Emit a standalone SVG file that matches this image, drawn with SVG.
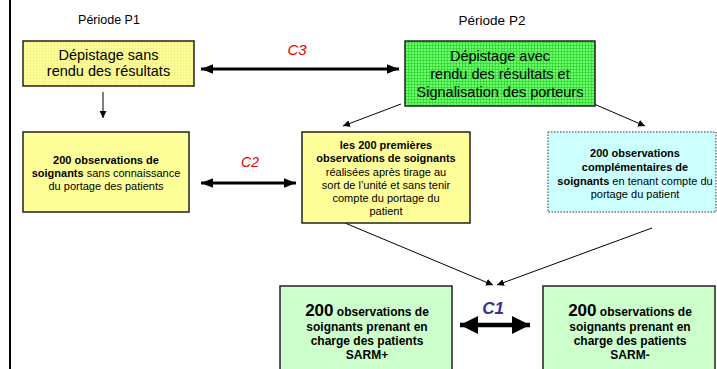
<svg xmlns="http://www.w3.org/2000/svg" width="717" height="369" viewBox="0 0 717 369">
<style>
text{font-family:"Liberation Sans",Arial,sans-serif;fill:#000;text-anchor:middle}
.per{font-size:12.5px}
.big{font-size:14.5px}
.sm{font-size:11px}
.b{font-weight:bold}
.box{stroke:#222;stroke-width:1.5}
.thin{stroke:#000;stroke-width:1;fill:none}
.thick{stroke:#000;stroke-width:3;fill:none}
</style>
<defs>
<pattern id="gy" width="3" height="3" patternUnits="userSpaceOnUse">
<rect width="3" height="3" fill="#ffff99"/>
<path d="M0 0.5H3M0.5 0V3" stroke="#f0f080" stroke-width="0.6"/>
</pattern>
<pattern id="gg" width="3" height="3" patternUnits="userSpaceOnUse">
<rect width="3" height="3" fill="#66ff66"/>
<path d="M0 0.5H3M0.5 0V3" stroke="#33cc33" stroke-width="0.7"/>
</pattern>
<marker id="a" viewBox="0 0 10 10" refX="10" refY="5" markerWidth="7" markerHeight="7" markerUnits="userSpaceOnUse" orient="auto-start-reverse"><path d="M0 0L10 5L0 10z" fill="#000"/></marker>
<marker id="A" viewBox="0 0 10 10" refX="10" refY="5" markerWidth="4" markerHeight="4" orient="auto-start-reverse"><path d="M0 1L10 5L0 9z" fill="#000"/></marker>
<marker id="C" viewBox="0 0 10 10" refX="10" refY="5" markerWidth="4" markerHeight="4" orient="auto-start-reverse"><path d="M0 0L10 5L0 10z" fill="#000"/></marker>
</defs>

<line x1="10" y1="0" x2="10" y2="369" stroke="#000" stroke-width="2"/>
<text class="per" x="109" y="24">Période P1</text>
<text class="per" x="492" y="25" style="font-size:13.5px">Période P2</text>

<g id="connectors">
<line class="thin" x1="103" y1="92" x2="103" y2="118" marker-end="url(#a)"/>
<line class="thick" x1="201" y1="69" x2="399" y2="69" marker-start="url(#A)" marker-end="url(#A)"/>
<line class="thick" x1="201" y1="183" x2="296" y2="183" marker-start="url(#A)" marker-end="url(#A)"/>
<line class="thin" x1="401" y1="104" x2="343" y2="126" marker-end="url(#a)"/>
<line class="thin" x1="594" y1="104" x2="645" y2="126" marker-end="url(#a)"/>
<line class="thin" x1="345" y1="223" x2="493" y2="285" marker-end="url(#a)"/>
<line class="thin" x1="652" y1="228" x2="497" y2="285" marker-end="url(#a)"/>
<line x1="460" y1="325" x2="530" y2="325" stroke="#000" stroke-width="4.5" marker-start="url(#C)" marker-end="url(#C)"/>
<text x="297" y="55" style="font-size:15px;fill:#e00000;font-style:italic">C3</text>
<text x="250" y="167" style="font-size:14px;fill:#e00000;font-style:italic">C2</text>
<text x="493" y="314" style="font-size:17px;fill:#333399;font-style:italic;font-weight:bold">C1</text>
</g>

<g id="p1-depistage">
<rect class="box" x="23" y="41" width="171" height="45" fill="url(#gy)"/>
<text class="big" x="108.5" y="60">Dépistage sans</text>
<text class="big" x="108.5" y="76">rendu des résultats</text>
</g>

<g id="p2-depistage">
<rect class="box" x="405" y="41" width="190" height="65" fill="url(#gg)"/>
<text class="big" x="500" y="61">Dépistage avec</text>
<text class="big" x="500" y="79">rendu des résultats et</text>
<text class="big" x="500" y="97">Signalisation des porteurs</text>
</g>

<g id="obs-p1">
<rect class="box" x="23" y="132" width="166" height="80" fill="#ffff99"/>
<text class="sm b" x="106" y="164">200 observations de</text>
<text class="sm" x="106" y="177"><tspan class="b">soignants</tspan> sans connaissance</text>
<text class="sm" x="106" y="190">du portage des patients</text>
</g>

<g id="obs-p2-200">
<rect class="box" x="302" y="132" width="168" height="91" fill="#ffff99"/>
<text class="sm b" x="386" y="149">les 200 premières</text>
<text class="sm b" x="386" y="162">observations de soignants</text>
<text class="sm" x="386" y="176">réalisées après tirage au</text>
<text class="sm" x="386" y="189">sort de l’unité et sans tenir</text>
<text class="sm" x="386" y="202">compte du portage du</text>
<text class="sm" x="386" y="215">patient</text>
</g>

<g id="obs-p2-compl">
<rect x="548" y="132" width="168" height="80" fill="#ccffff" stroke="#333" stroke-width="1" stroke-dasharray="1.5,1.5"/>
<text class="sm b" x="635" y="157">200 observations</text>
<text class="sm b" x="635" y="171">complémentaires de</text>
<text class="sm" x="635" y="185"><tspan class="b">soignants</tspan> en tenant compte du</text>
<text class="sm" x="635" y="198">portage du patient</text>
</g>

<g id="sarm-plus">
<rect class="box" x="280" y="286" width="172" height="90" fill="#ccffcc"/>
<text class="b" x="367" y="316" style="font-size:12px"><tspan style="font-size:17px">200</tspan> observations de</text>
<text class="b" x="367" y="331" style="font-size:12px">soignants prenant en</text>
<text class="b" x="367" y="345" style="font-size:12px">charge des patients</text>
<text class="b" x="367" y="359" style="font-size:12px">SARM+</text>
</g>

<g id="sarm-minus">
<rect class="box" x="543" y="286" width="172" height="90" fill="#ccffcc"/>
<text class="b" x="630" y="316" style="font-size:12px"><tspan style="font-size:17px">200</tspan> observations de</text>
<text class="b" x="630" y="331" style="font-size:12px">soignants prenant en</text>
<text class="b" x="630" y="345" style="font-size:12px">charge des patients</text>
<text class="b" x="630" y="359" style="font-size:12px">SARM-</text>
</g>
</svg>
